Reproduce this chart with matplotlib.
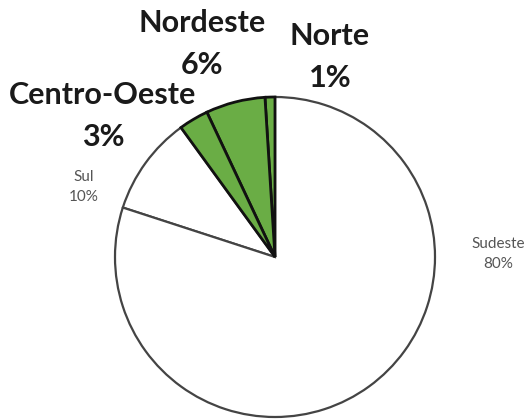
import matplotlib
matplotlib.use("Agg")
from matplotlib import pyplot as plt

regions = ["Norte", "Nordeste", "Centro-Oeste", "Sul", "Sudeste"]
shares = [1, 6, 3, 10, 80]
highlight = [True, True, True, False, False]

# label anchor points in pixels (x, y from top)
label_xy = [(330, 57), (202, 44), (103, 116), (84, 187), (498, 254)]

W, H = 531, 419
fig = plt.figure(figsize=(W / 100, H / 100), dpi=100)
ax = fig.add_axes([0, 0, 1, 1])

colors = ["#6aad45" if h else "white" for h in highlight]
wedges, _ = ax.pie(shares, colors=colors, startangle=90, counterclock=True,
                   center=(275, H - 257), radius=160, frame=True)
for w, h in zip(wedges, highlight):
    if h:
        w.set_edgecolor("#111111")
        w.set_linewidth(2.0)
        w.set_zorder(3)
    else:
        w.set_edgecolor("#444444")
        w.set_linewidth(1.6)
        w.set_zorder(2)
ax.set_xlim(0, W)
ax.set_ylim(0, H)
ax.set_aspect("auto")
ax.axis("off")

for name, pct, h, (x, y) in zip(regions, shares, highlight, label_xy):
    txt = f"{name}\n{pct}%"
    if h:
        ax.text(x, H - y, txt, ha="center", va="center", fontsize=22,
                fontweight="bold", family="Lato", color="#1a1a1a",
                linespacing=1.65)
    else:
        ax.text(x, H - y, txt, ha="center", va="center", fontsize=11,
                family="Lato", color="#555555", linespacing=1.5)

fig.savefig("out.png", dpi=100)
plt.close(fig)
